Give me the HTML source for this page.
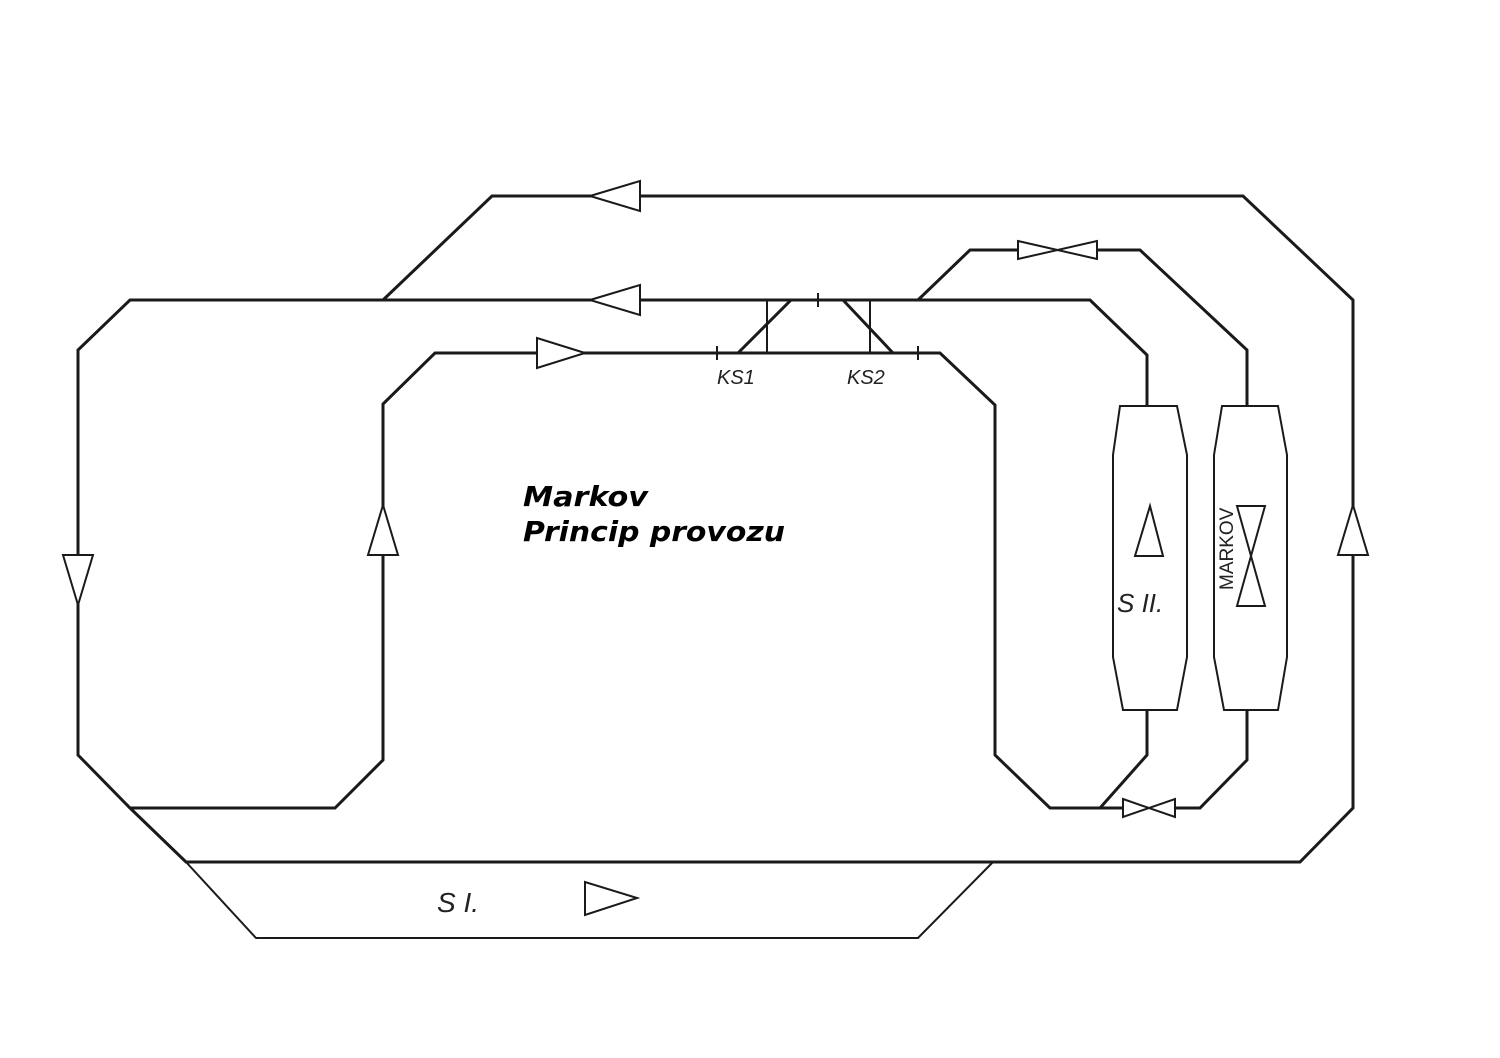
<!DOCTYPE html>
<html><head><style>body{margin:0;background:#fff}svg{display:block}</style></head><body>
<svg width="1500" height="1058" viewBox="0 0 1500 1058" xmlns="http://www.w3.org/2000/svg">
<g fill="none" stroke="#1a1a1a" stroke-width="3" stroke-linejoin="miter">
<path d="M383,300 L492,196 L1243,196 L1353,300 L1353,808 L1300,862 L186,862 L130,808 L78,755 L78,350 L130,300 L1090,300 L1147,355 L1147,406"/>
<path d="M130,808 L335,808 L383,760 L383,404 L435,353 L940,353 L995,405 L995,755 L1050,808 L1123,808"/>
<path d="M1175,808 L1200,808 L1247,760 L1247,710"/>
<path d="M1147,710 L1147,755 L1100,808"/>
<path d="M918,300 L970,250 L1018,250 M1097,250 L1140,250 L1247,350 L1247,406"/>
<path d="M993,862 L918,938 L256,938 L186,862" stroke-width="2"/>
</g>
<g fill="none" stroke="#1a1a1a" stroke-width="2">
<path d="M1120,406 L1177,406 L1187,455 L1187,657 L1177,710 L1123,710 L1113,657 L1113,455 Z"/>
<path d="M1222,406 L1278,406 L1287,455 L1287,657 L1278,710 L1224,710 L1214,657 L1214,455 Z"/>
<path d="M1018,241 L1097,259 L1097,241 L1018,259 Z"/>
<path d="M1123,799 L1175,817 L1175,799 L1123,817 Z"/>
<path d="M1237,506 L1265,506 L1237,606 L1265,606 Z"/>
<path d="M1150,506 L1135,556 L1163,556 Z"/>
<path d="M590,196 L640,181 L640,211 Z" fill="#fff"/>
<path d="M590,300 L640,285 L640,315 Z" fill="#fff"/>
<path d="M585,353 L537,338 L537,368 Z" fill="#fff"/>
<path d="M78,605 L63,555 L93,555 Z" fill="#fff"/>
<path d="M383,505 L368,555 L398,555 Z" fill="#fff"/>
<path d="M1353,505 L1338,555 L1368,555 Z" fill="#fff"/>
<path d="M637,898 L585,882 L585,915 Z"/>
<path d="M767,300 L767,353 M870,300 L870,353 M717,346 L717,360 M818,293 L818,307 M918,346 L918,360"/>
<path d="M738,353 L791,300 M843,300 L893,353" stroke-width="3"/>
</g>
<g font-family="Liberation Sans, sans-serif" fill="#222" font-style="italic">
<text x="717" y="384" font-size="20">KS1</text>
<text x="847" y="384" font-size="20">KS2</text>
<text x="1117" y="612" font-size="26">S II.</text>
<text x="437" y="912" font-size="28">S I.</text>
<text transform="translate(1233,590) rotate(-90)" font-size="19" font-style="normal">MARKOV</text>
</g>
<g font-family="DejaVu Sans, sans-serif" font-weight="bold" font-style="italic" font-size="28" fill="#000">
<text x="523" y="506" textLength="125" lengthAdjust="spacingAndGlyphs">Markov</text>
<text x="523" y="541" textLength="262" lengthAdjust="spacingAndGlyphs">Princip provozu</text>
</g>
</svg>
</body></html>
